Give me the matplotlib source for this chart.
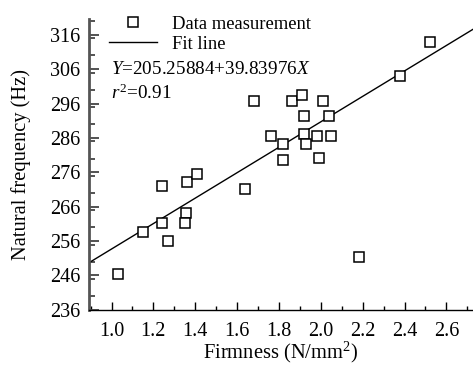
import numpy as np
import matplotlib.pyplot as plt
from matplotlib.ticker import MultipleLocator

plt.rcParams['font.family'] = ['Liberation Serif', 'DejaVu Serif']
plt.rcParams['mathtext.fontset'] = 'custom'
plt.rcParams['mathtext.rm'] = 'Liberation Serif'
plt.rcParams['mathtext.it'] = 'Liberation Serif:italic'

# firmness (N/mm^2) vs natural frequency (Hz)
firmness = [1.03, 1.15, 1.24, 1.24, 1.27, 1.36, 1.41, 1.355, 1.35, 1.64,
            1.82, 1.99, 2.18, 1.68, 1.86, 1.91, 2.01, 1.92, 2.04, 1.76,
            1.92, 1.98, 2.05, 1.82, 1.93, 2.38, 2.52]
frequency = [246.5, 258.7, 272.1, 261.2, 256.1, 273.1, 275.4, 264.1, 261.2, 271.2,
             279.6, 280.3, 251.3, 296.8, 296.8, 298.5, 296.8, 292.4, 292.4, 286.7,
             287.1, 286.7, 286.7, 284.3, 284.3, 304.0, 314.0]

# fitted line as drawn in the figure
fit_intercept = 216.7
fit_slope = 37.0
equation = r'$Y$=205.25884+39.83976$X$'
r2_text = r'$r^2$=0.91'

fig = plt.figure(figsize=(4.73, 3.65), dpi=100)
ax = fig.add_axes([0.188, 0.151, 0.812, 0.797])

xlim = np.array([0.892, 2.727])
ax.plot(xlim, fit_intercept + fit_slope * xlim, color='black', lw=1.0, label='Fit line')
ax.plot(firmness, frequency, 's', mfc='white', mec='black', ms=6.5, mew=1.1,
        label='Data measurement', zorder=3)

ax.set_xlim(*xlim)
ax.set_ylim(236, 320.6)
ax.xaxis.set_minor_locator(MultipleLocator(0.1))
ax.yaxis.set_minor_locator(MultipleLocator(5))
ax.set_xticks(np.arange(1.0, 2.61, 0.2))
ax.set_yticks(np.arange(236, 317, 10))
ax.xaxis.set_major_formatter(lambda v, p: f'{v:.1f}')

ax.tick_params(which='major', direction='in', length=6, width=1, labelsize=14.5)
ax.tick_params(which='minor', direction='in', length=3, width=1)
ax.tick_params(axis='x', which='major', pad=9)
ax.tick_params(axis='y', which='major', length=7, width=1.3, color='#444444', pad=6)
ax.tick_params(axis='y', which='minor', length=4, width=1.3, color='#444444')

for s in ['top', 'right']:
    ax.spines[s].set_visible(False)
ax.spines['left'].set_linewidth(2)
ax.spines['left'].set_color('#555555')
ax.spines['bottom'].set_linewidth(1)

ax.set_xlabel('Firmness (N/mm$^2$)', fontsize=14.8, labelpad=-1)
ax.set_ylabel('Natural frequency (Hz)', fontsize=14.8, labelpad=14)

handles, labels = ax.get_legend_handles_labels()
ax.legend(handles[::-1], labels[::-1], loc='upper left', bbox_to_anchor=(0.033, 1.037),
          frameon=False, fontsize=13.4, handlelength=2.6, handletextpad=0.8,
          borderaxespad=0, labelspacing=0.15)

ax.text(0.057, 0.825, equation, transform=ax.transAxes, fontsize=13.8, va='center')
ax.text(0.057, 0.746, r2_text, transform=ax.transAxes, fontsize=13.8, va='center')

fig.savefig('out.png', dpi=100)
